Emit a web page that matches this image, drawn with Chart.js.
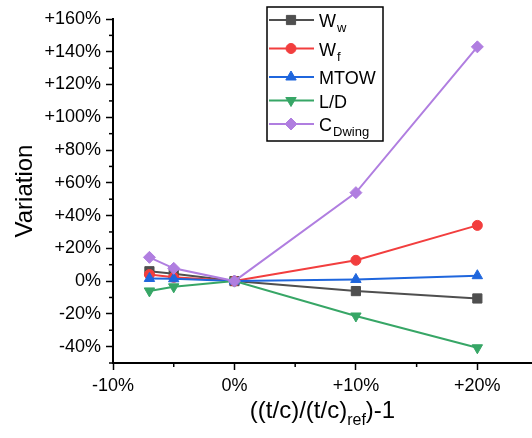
<!DOCTYPE html>
<html>
<head>
<meta charset="utf-8">
<script src="https://cdn.jsdelivr.net/npm/chart.js@4.4.0/dist/chart.umd.min.js"></script>
<style>
html, body { margin: 0; padding: 0; background: #fff; }
</style>
</head>
<body>
<canvas id="myChart" width="532" height="438"></canvas>
<script>
// relative thickness change vs. reference, in %
const thickness = [-7, -5, 0, 10, 20];

// variation of each quantity, in %
const wingWeight = [6, 4.5, 0, -6.1, -10.6];
const fuelWeight = [4, 2.3, 0, 12.7, 34];
const mtow = [1.6, 1.4, 0, 1, 3.3];
const liftToDrag = [-6, -3.5, 0, -21.3, -40.7];
const wingDrag = [14.5, 7.8, 0, 54, 143];

// legend text: main part + subscript
const seriesNames = ['W', 'W', 'MTOW', 'L/D', 'C'];
const seriesSubs = ['w', 'f', '', '', 'Dwing'];

const FONT = '"Liberation Sans", Arial, sans-serif';

function pct(v) {
     return (v > 0 ? '+' : '') + v + '%';
}

function makeSet(i, values, color, style, radius, rotation) {
     return {
          label: seriesNames[i] + seriesSubs[i],
          data: thickness.map((x, k) => ({ x: x, y: values[k] })),
          borderColor: color,
          backgroundColor: color,
          borderWidth: 2,
          pointStyle: style,
          pointRadius: radius,
          pointRotation: rotation || 0,
          pointBorderWidth: 1,
          tension: 0,
          order: 5 - i
     };
}

const datasets = [
     makeSet(0, wingWeight, '#4f4f4f', 'rect', 6.5),
     makeSet(1, fuelWeight, '#f23e3e', 'circle', 5),
     makeSet(2, mtow, '#1f66dd', 'triangle', 6),
     makeSet(3, liftToDrag, '#37a666', 'triangle', 6, 180),
     makeSet(4, wingDrag, '#b07ee0', 'rectRot', 6)
];

// minor ticks, axis titles with subscripts and the boxed legend
const extras = {
     id: 'extras',
     afterDraw(chart) {
          const ctx = chart.ctx;
          const area = chart.chartArea;
          const xs = chart.scales.x;
          const ys = chart.scales.y;

          ctx.save();
          ctx.strokeStyle = '#000';
          ctx.lineWidth = 1.5;
          xs.ticks.forEach(t => {
               if (t.value % 10 !== 0) {
                    const px = xs.getPixelForValue(t.value);
                    ctx.beginPath();
                    ctx.moveTo(px, area.bottom);
                    ctx.lineTo(px, area.bottom + 4);
                    ctx.stroke();
               }
          });
          ys.ticks.forEach(t => {
               if (t.value % 20 !== 0) {
                    const py = ys.getPixelForValue(t.value);
                    ctx.beginPath();
                    ctx.moveTo(area.left - 4, py);
                    ctx.lineTo(area.left, py);
                    ctx.stroke();
               }
          });

          // y title
          ctx.fillStyle = '#000';
          ctx.save();
          ctx.translate(32, (area.top + area.bottom) / 2);
          ctx.rotate(-Math.PI / 2);
          ctx.font = '24px ' + FONT;
          ctx.textAlign = 'center';
          ctx.textBaseline = 'alphabetic';
          ctx.fillText('Variation', 0, 0);
          ctx.restore();

          // x title: ((t/c)/(t/c)_ref)-1
          const parts = [['((t/c)/(t/c)', 24, 0], ['ref', 16, 7], [')-1', 24, 0]];
          let total = 0;
          parts.forEach(p => { ctx.font = p[1] + 'px ' + FONT; total += ctx.measureText(p[0]).width; });
          let cx = (area.left + area.right) / 2 - total / 2;
          ctx.textAlign = 'left';
          parts.forEach(p => {
               ctx.font = p[1] + 'px ' + FONT;
               ctx.fillText(p[0], cx, 418 + p[2]);
               cx += ctx.measureText(p[0]).width;
          });

          // legend box
          const bx = 267, by = 7, bw = 116, bh = 134;
          ctx.fillStyle = '#fff';
          ctx.fillRect(bx, by, bw, bh);
          ctx.strokeStyle = '#000';
          ctx.lineWidth = 1.5;
          ctx.strokeRect(bx, by, bw, bh);

          let rowY = by + 13;
          datasets.forEach((ds, i) => {
               ctx.strokeStyle = ds.borderColor;
               ctx.lineWidth = 2;
               ctx.beginPath();
               ctx.moveTo(bx + 2, rowY);
               ctx.lineTo(bx + 47, rowY);
               ctx.stroke();
               ctx.fillStyle = ds.backgroundColor;
               ctx.lineWidth = 1;
               Chart.helpers.drawPoint(ctx, {
                    pointStyle: ds.pointStyle,
                    rotation: ds.pointRotation,
                    radius: ds.pointRadius,
                    borderWidth: 1
               }, bx + 24, rowY);

               ctx.fillStyle = '#000';
               ctx.font = '18px ' + FONT;
               ctx.fillText(seriesNames[i], bx + 52, rowY + 7);
               const w = ctx.measureText(seriesNames[i]).width;
               if (seriesSubs[i]) {
                    ctx.font = '13px ' + FONT;
                    ctx.fillText(seriesSubs[i], bx + 52 + w + 1, rowY + 12);
               }
               rowY += seriesSubs[i] ? 28.5 : 23.5;
          });
          ctx.restore();
     }
};

const config = {
     type: 'line',
     data: { datasets: datasets },
     options: {
          responsive: false,
          animation: false,
          devicePixelRatio: 1,
          layout: { autoPadding: false, padding: { top: 19, right: 0, left: 0, bottom: 0 } },
          plugins: {
               legend: { display: false },
               tooltip: { enabled: false }
          },
          scales: {
               x: {
                    type: 'linear',
                    min: -10,
                    max: 24.5,
                    afterFit: s => { s.height = 75; s.paddingRight = 0; s.paddingLeft = 0; },
                    ticks: {
                         stepSize: 5,
                         includeBounds: false,
                         autoSkip: false,
                         maxRotation: 0,
                         padding: 5,
                         color: '#000',
                         font: { family: FONT, size: 18 },
                         callback: v => (v % 10 === 0 ? pct(v) : '')
                    },
                    grid: {
                         drawOnChartArea: false,
                         tickLength: 7,
                         tickWidth: 1.5,
                         tickColor: c => (c.tick && c.tick.value % 10 === 0 ? '#000' : 'rgba(0,0,0,0)')
                    },
                    border: { color: '#000', width: 2 }
               },
               y: {
                    min: -50,
                    max: 160,
                    afterFit: s => { s.width = 113; },
                    ticks: {
                         stepSize: 10,
                         autoSkip: false,
                         padding: 5,
                         color: '#000',
                         font: { family: FONT, size: 18 },
                         callback: v => (v % 20 === 0 ? pct(v) : '')
                    },
                    grid: {
                         drawOnChartArea: false,
                         tickLength: 7,
                         tickWidth: 1.5,
                         tickColor: c => (c.tick && c.tick.value % 20 === 0 ? '#000' : 'rgba(0,0,0,0)')
                    },
                    border: { color: '#000', width: 2 }
               }
          }
     },
     plugins: [extras]
};

new Chart(document.getElementById('myChart').getContext('2d'), config);
</script>
</body>
</html>
